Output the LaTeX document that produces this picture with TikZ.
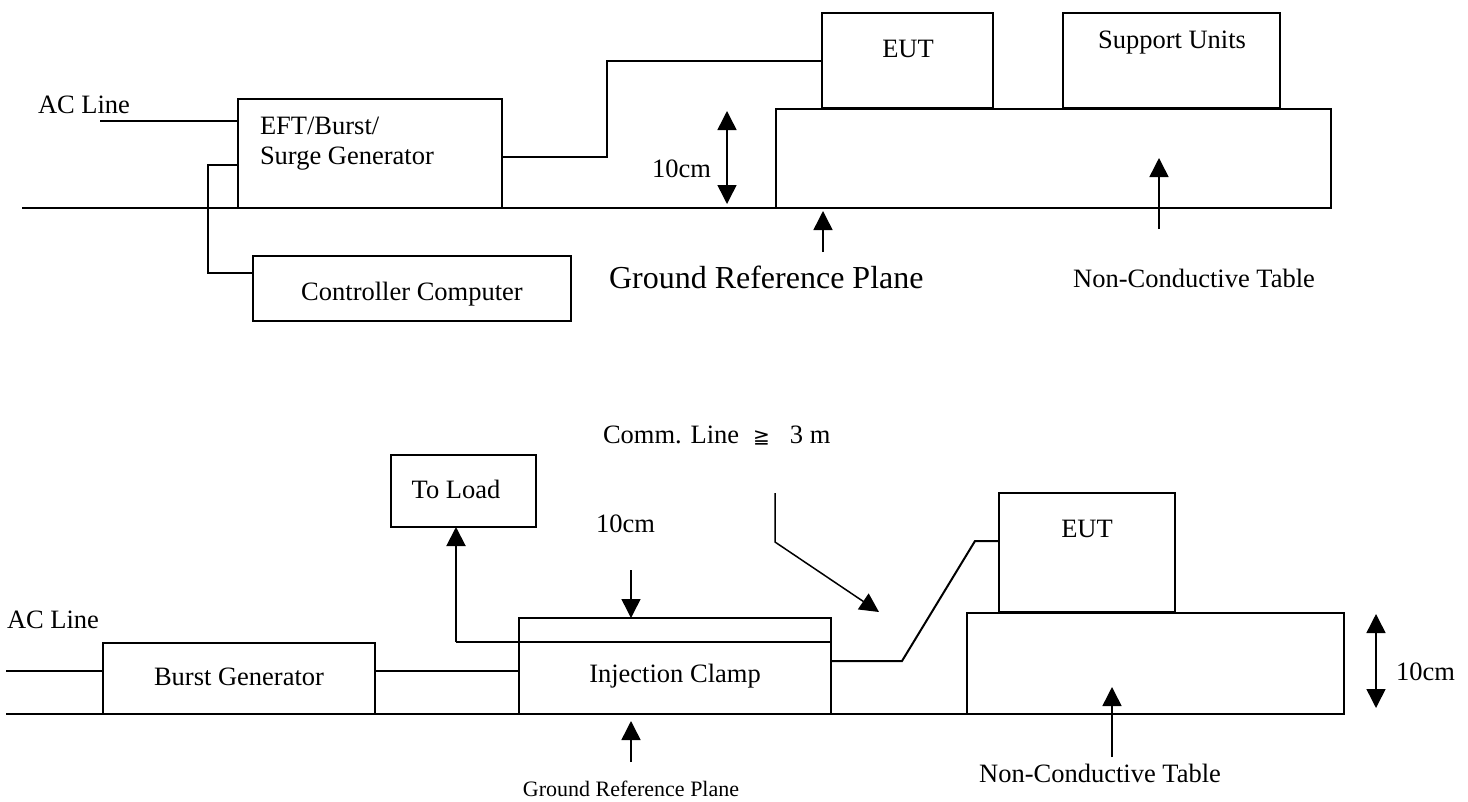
\documentclass[tikz,border=0pt]{standalone}
\usepackage{fontspec}
\setmainfont{Liberation Serif}
\newfontfamily\symfont{DejaVu Sans}
\usetikzlibrary{arrows.meta}
\tikzset{
  box/.style={draw, line width=2pt, inner sep=0pt, outer sep=0pt, anchor=north west},
  wire/.style={line width=2pt},
  gnd/.style={line width=2.6pt},
  arr/.style={line width=1.5pt, -{Triangle[length=19pt,width=19pt]}},
  darr/.style={line width=1.5pt, {Triangle[length=19pt,width=19pt]}-{Triangle[length=19pt,width=19pt]}},
  txt/.style={inner sep=0pt, outer sep=0pt, font=\fontsize{26.5}{30}\selectfont},
  bigtxt/.style={inner sep=0pt, outer sep=0pt, font=\fontsize{32}{36}\selectfont},
  smalltxt/.style={inner sep=0pt, outer sep=0pt, font=\fontsize{22}{26}\selectfont},
}
\begin{document}
\begin{tikzpicture}[x=1pt,y=-1pt]
\useasboundingbox (0,0) rectangle (1468,801);
% ================= TOP =================
\node[box, minimum width=264, minimum height=109] (eft) at (238,99) {};
\node[box, minimum width=318, minimum height=65] (ctrl) at (253,256) {};
\node[box, minimum width=171, minimum height=95] (eut1) at (822,13) {};
\node[box, minimum width=217, minimum height=95] (sup) at (1063,13) {};
\node[box, minimum width=555, minimum height=99] (tab1) at (776,109) {};

\node[txt, anchor=base west] (acl1) at (38,113) {AC Line};
\node[txt, anchor=base west] (eftt1) at (260,134) {EFT/Burst/};
\node[txt, anchor=base west] (eftt2) at (260,164) {Surge Generator};
\node[txt, anchor=base] (ctrlt) at (412,300) {Controller Computer};
\node[txt, anchor=base] (eut1t) at (908,57) {EUT};
\node[txt, anchor=base] (supt) at (1172,48) {Support Units};
\node[txt, anchor=base west] (cm1) at (652,177) {10cm};
\node[bigtxt, anchor=base west] (grp1) at (609,288) {Ground Reference Plane};
\node[txt, anchor=base] (nct1) at (1194,287) {Non-Conductive Table};

\coordinate (acs1) at (100,121);
\draw[wire] (acs1) -- (acs1 -| eft.west);
\coordinate (cw1) at (208,165);
\coordinate (cw2) at (208,273);
\draw[wire] (cw1 -| eft.west) -- (cw1) -- (cw2) -- (cw2 -| ctrl.west);
\coordinate (ew1) at (607,157);
\coordinate (ew2) at (607,61);
\draw[wire] (ew1 -| eft.east) -- (ew1) -- (ew2) -- (ew2 -| eut1.west);
\coordinate (g1) at (22,208);
\draw[gnd] (g1) -- (tab1.south west);

\coordinate (d1a) at (727,204);
\coordinate (d1b) at (727,111);
\draw[darr] (d1a) -- (d1b);
\coordinate (ga1) at (823,252);
\coordinate (gb1) at (823,211);
\draw[arr] (ga1) -- (gb1);
\coordinate (ta1) at (1159,229);
\coordinate (tb1) at (1159,158);
\draw[arr] (ta1) -- (tb1);

% ================= BOTTOM =================
\node[box, minimum width=272, minimum height=71] (burst) at (103,643) {};
\node[box, minimum width=312, minimum height=24] (strip) at (519,618) {};
\node[box, minimum width=312, minimum height=72] (clamp) at (519,642) {};
\node[box, minimum width=145, minimum height=72] (load) at (391,455) {};
\node[box, minimum width=176, minimum height=119] (eut2) at (999,493) {};
\node[box, minimum width=377, minimum height=101] (tab2) at (967,613) {};

\node[txt, anchor=base west] (acl2) at (7,628) {AC Line};
\node[txt, anchor=base] (burstt) at (239,685) {Burst Generator};
\node[txt, anchor=base] (clampt) at (675,682) {Injection Clamp};
\node[txt, anchor=base] (loadt) at (456,498) {To Load};
\node[txt, anchor=base] (eut2t) at (1087,537) {EUT};
\node[txt, anchor=base west] (cm2) at (596,532) {10cm};
\node[txt, anchor=base west] (cm3) at (1396,680) {10cm};
\node[txt, anchor=base west] (comm) at (603,443) {Comm. Line\hspace{14pt}{\symfont\fontsize{20}{22}\selectfont ≧}\hspace{20pt}3 m};
\node[smalltxt, anchor=base] (grp2) at (631,796) {Ground Reference Plane};
\node[txt, anchor=base] (nct2) at (1100,782) {Non-Conductive Table};

\coordinate (acs2) at (6,671);
\draw[wire] (acs2) -- (acs2 -| burst.west);
\draw[wire] (acs2 -| burst.east) -- (acs2 -| clamp.west);
\coordinate (lw) at (456,642);
\draw[wire] (clamp.north west) -- (lw);
\draw[line width=2pt, -{Triangle[length=19pt,width=19pt]}] (lw) -- (load.south -| lw);
\coordinate (cw3) at (902,661);
\coordinate (cw4) at (975,541);
\draw[wire] (cw3 -| clamp.east) -- (cw3) -- (cw4) -- (cw4 -| eut2.west);
\coordinate (g2) at (6,714);
\draw[gnd] (g2) -- (tab2.south west);

\coordinate (ca1) at (775,493);
\coordinate (ca2) at (775,542);
\coordinate (ca3) at (879,612);
\draw[arr] (ca1) -- (ca2) -- (ca3);
\coordinate (da) at (631,570);
\draw[arr] (da) -- (da |- strip.north);
\coordinate (ga2) at (631,762);
\coordinate (gb2) at (631,721);
\draw[arr] (ga2) -- (gb2);
\coordinate (ta2) at (1112,757);
\coordinate (tb2) at (1112,687);
\draw[arr] (ta2) -- (tb2);
\coordinate (d2a) at (1376,614);
\coordinate (d2b) at (1376,708);
\draw[darr] (d2a) -- (d2b);
\end{tikzpicture}
\end{document}
